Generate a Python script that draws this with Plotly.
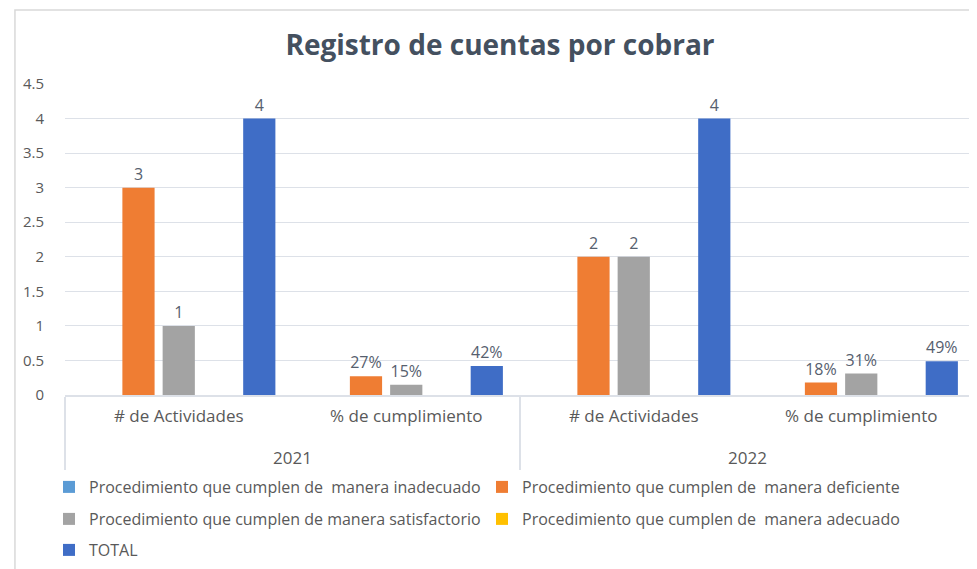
import plotly.graph_objects as go

years = ["<br>2021", "<br>2021", "<br>2022", "<br>2022"]
metrics = ["# de Actividades", "% de cumplimiento", "# de Actividades", "% de cumplimiento"]

series_names = [
    "Procedimiento que cumplen de  manera inadecuado",
    "Procedimiento que cumplen de  manera deficiente",
    "Procedimiento que cumplen de manera satisfactorio",
    "Procedimiento que cumplen de  manera adecuado",
    "TOTAL",
]
inadecuado = [0, 0, 0, 0]
deficiente = [3, 0.27, 2, 0.18]
satisfactorio = [1, 0.15, 2, 0.31]
adecuado = [0, 0, 0, 0]
total = [4, 0.42, 4, 0.49]

series_values = [inadecuado, deficiente, satisfactorio, adecuado, total]
colors = ["#5B9BD5", "#EF7D33", "#A3A3A3", "#FFC000", "#3F6DC6"]
legend_ids = ["legend", "legend", "legend2", "legend2", "legend3"]

y_ticks = [0, 0.5, 1, 1.5, 2, 2.5, 3, 3.5, 4, 4.5]
y_tick_text = ["0", "0.5", "1", "1.5", "2", "2.5", "3", "3.5", "4", "4.5"]


def label(v, metric):
    if v == 0:
        return ""
    if metric.startswith("%"):
        return f"{round(v * 100)}%"
    return f"{v:g}"


LABEL_COLOR = "#56606E"
FONT = "Open Sans, Liberation Sans, Arial"

fig = go.Figure()
for name, vals, col, lg in zip(series_names, series_values, colors, legend_ids):
    fig.add_trace(go.Bar(
        name=name,
        x=[years, metrics],
        y=vals,
        marker=dict(color=col, line=dict(width=0)),
        text=[label(v, m) for v, m in zip(vals, metrics)],
        textposition="outside",
        textfont=dict(size=16, color=LABEL_COLOR, family=FONT),
        constraintext="none",
        cliponaxis=False,
        legend=lg,
    ))

# page body adds an 8px offset; figure is sized to fill the rest of the window
OFF = 8
W, H = 969, 561
legend_common = dict(
    orientation="h",
    xref="container", yref="container",
    xanchor="left", yanchor="middle",
    font=dict(size=16, color="#595959", family=FONT),
    bgcolor="rgba(0,0,0,0)",
    entrywidth=388,
    entrywidthmode="pixels",
)

fig.update_layout(
    width=W, height=H,
    paper_bgcolor="white",
    plot_bgcolor="white",
    margin=dict(l=65 - OFF, r=2, t=84 - OFF, b=174, autoexpand=False),
    title=dict(
        text="<b>Registro de cuentas por cobrar</b>",
        x=(500 - OFF) / W, xanchor="center",
        y=1 - (45 - OFF) / H, yanchor="middle",
        font=dict(size=28, color="#44505F", family=FONT),
    ),
    barmode="group",
    bargap=0.115,
    bargroupgap=0.2,
    legend=dict(x=(49 - OFF) / W, y=1 - (487 - OFF) / H, **legend_common),
    legend2=dict(x=(49 - OFF) / W, y=1 - (519 - OFF) / H, **legend_common),
    legend3=dict(x=(49 - OFF) / W, y=1 - (550 - OFF) / H, **legend_common),
    font=dict(family=FONT, color="#595959"),
    shapes=[dict(
        type="rect", xref="paper", yref="paper",
        x0=-0.055, x1=1.02, y0=-0.6, y1=1.238,
        line=dict(color="#D9D9D9", width=1.5),
        fillcolor="rgba(0,0,0,0)", layer="below",
    )],
)

fig.update_yaxes(
    range=[0, 4.5],
    tickvals=y_ticks, ticktext=y_tick_text,
    showgrid=True, gridcolor="#DDE1E8", gridwidth=1,
    zeroline=False, showline=False,
    tickfont=dict(size=15, color="#595959", family=FONT),
    ticks="", ticklabelstandoff=20,
    automargin=False,
)
fig.update_xaxes(
    type="multicategory",
    showline=True, linecolor="#DDE1E8", linewidth=1.5,
    showdividers=True, dividercolor="#DDE1E8", dividerwidth=1.5,
    tickfont=dict(size=17, color="#595959", family=FONT),
    ticks="", ticklabelstandoff=5,
    automargin=False,
)

fig.write_html("out.html")
